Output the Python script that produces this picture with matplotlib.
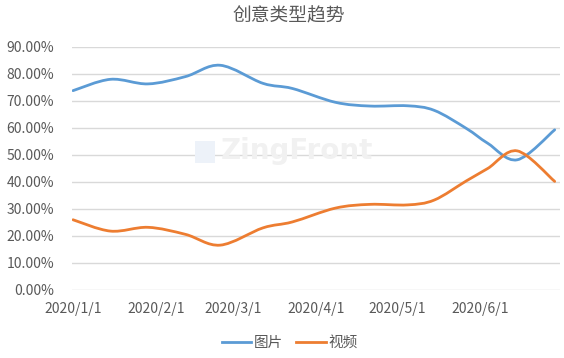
import numpy as np
import matplotlib
matplotlib.use("Agg")
import matplotlib.pyplot as plt
import matplotlib.dates as mdates
from matplotlib.path import Path
from matplotlib.patches import PathPatch, Rectangle
from matplotlib.lines import Line2D

plt.rcParams['font.family'] = ['Noto Sans CJK SC', 'DejaVu Sans']

# data (share in %)
dates = ['2020-01-01', '2020-01-15', '2020-01-29', '2020-02-12', '2020-02-25',
         '2020-03-12', '2020-03-23', '2020-04-08', '2020-04-21', '2020-05-05',
         '2020-05-15', '2020-05-27', '2020-06-04', '2020-06-15', '2020-06-29']
image_share = [73.8, 78.0, 76.3, 79.0, 83.2, 76.5, 74.6, 69.5, 68.1, 68.2,
               66.5, 59.8, 54.3, 48.2, 59.3]
video_share = [26.0, 21.8, 23.2, 20.6, 16.6, 23.0, 25.2, 30.3, 31.7, 31.5,
               33.3, 40.4, 45.0, 51.5, 40.2]
series_names = ['图片', '视频']
series_colors = ['#5b9bd5', '#ed7d31']
month_ticks = ['2020-01-01', '2020-02-01', '2020-03-01', '2020-04-01', '2020-05-01', '2020-06-01']
month_labels = ['2020/1/1', '2020/2/1', '2020/3/1', '2020/4/1', '2020/5/1', '2020/6/1']
y_ticks = [0, 10, 20, 30, 40, 50, 60, 70, 80, 90]

GRAY = '#595959'


def smooth_path(x, y):
    # excel style smoothed line: cubic bezier through every point
    n = len(x)
    verts = [(x[0], y[0])]
    codes = [Path.MOVETO]
    for i in range(n - 1):
        xa, ya = (x[i - 1], y[i - 1]) if i > 0 else (x[i], y[i])
        xb, yb = (x[i + 2], y[i + 2]) if i + 2 < n else (x[i + 1], y[i + 1])
        c1 = (x[i] + (x[i + 1] - xa) / 6, y[i] + (y[i + 1] - ya) / 6)
        c2 = (x[i + 1] - (xb - x[i]) / 6, y[i + 1] - (yb - y[i]) / 6)
        verts += [c1, c2, (x[i + 1], y[i + 1])]
        codes += [Path.CURVE4] * 3
    return Path(verts, codes)


fig = plt.figure(figsize=(5.64, 3.58), dpi=100)
ax = fig.add_axes([0.128, 0.19, 0.865, 0.679])

xd = mdates.date2num(np.array(dates, dtype='datetime64[D]'))
for vals, color in zip([image_share, video_share], series_colors):
    p = smooth_path(xd, np.array(vals, dtype=float))
    ax.add_patch(PathPatch(p, fill=False, edgecolor=color, lw=2.0,
                           capstyle='round', joinstyle='round', zorder=3))

x0 = mdates.date2num(np.datetime64('2020-01-01'))
x1 = mdates.date2num(np.datetime64('2020-07-01'))
ax.set_xlim(x0 - 0.3, x1)
ax.set_ylim(0, 90)

ax.set_xticks(mdates.date2num(np.array(month_ticks, dtype='datetime64[D]')))
ax.set_xticklabels(month_labels)
ax.set_yticks(y_ticks)
ax.set_yticklabels([f"{v:.2f}%" for v in y_ticks])
ax.tick_params(length=0, labelsize=10, colors=GRAY)
ax.tick_params(axis='y', pad=13)
ax.tick_params(axis='x', pad=9)
ax.grid(axis='y', color='#d9d9d9', lw=1)
ax.set_axisbelow(True)
for s in ax.spines.values():
    s.set_visible(False)

fig.text(0.512, 0.955, '创意类型趋势', ha='center', va='center',
         fontsize=13.5, color=GRAY)

# faint watermark
fig.text(0.527, 0.578, 'ZingFront', ha='center', va='center', fontsize=20,
         fontweight='bold', color='#f1f1f1', zorder=0, family='DejaVu Sans')
fig.patches.append(Rectangle((0.346, 0.545), 0.036, 0.062, transform=fig.transFigure,
                             facecolor='#edf2f9', edgecolor='none', zorder=0))

handles = [Line2D([], [], color=c, lw=2.0) for c in series_colors]
fig.legend(handles, series_names, loc='center', bbox_to_anchor=(0.514, 0.042),
           ncol=2, frameon=False, fontsize=10.5, handlelength=2.0,
           handletextpad=0.2, columnspacing=0.9, labelcolor=GRAY)

fig.savefig('out.png', dpi=100)
